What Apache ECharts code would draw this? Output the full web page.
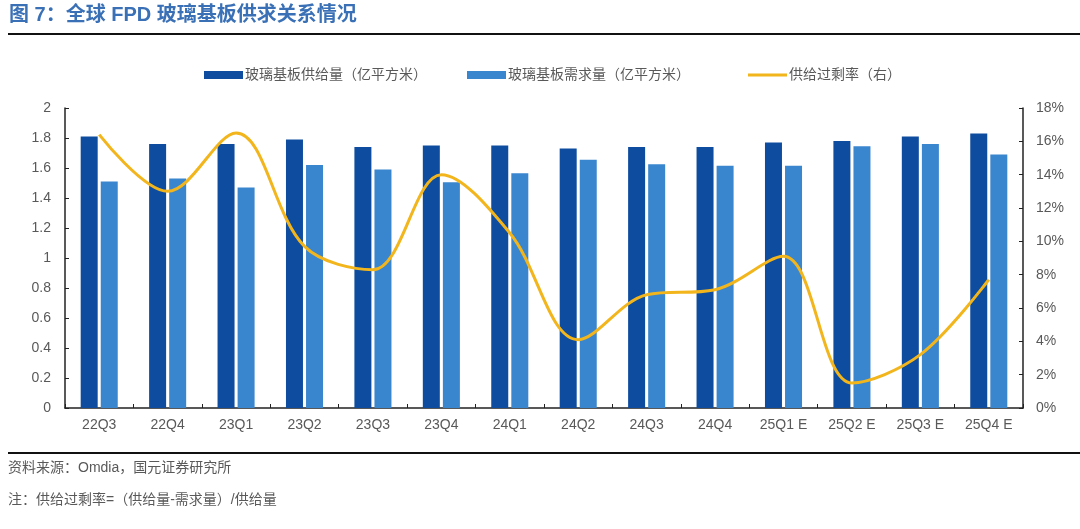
<!DOCTYPE html>
<html>
<head>
<meta charset="utf-8">
<script src="https://cdn.jsdelivr.net/npm/echarts@6/dist/echarts.min.js"></script>
<style>
html,body{margin:0;padding:0;background:#fff;}
#c{width:1080px;height:529px;}
</style>
</head>
<body>
<div id="c"></div>
<script>
var categories = ['22Q3','22Q4','23Q1','23Q2','23Q3','23Q4','24Q1','24Q2','24Q3','24Q4','25Q1 E','25Q2 E','25Q3 E','25Q4 E'];
var supply = [1.81,1.76,1.76,1.79,1.74,1.75,1.75,1.73,1.74,1.74,1.77,1.78,1.81,1.83];
var demand = [1.51,1.53,1.47,1.62,1.59,1.505,1.565,1.655,1.625,1.615,1.615,1.745,1.76,1.69];
var surplus = [16.4,13.0,16.5,9.7,8.3,14.0,10.5,4.1,6.8,7.1,9.1,1.5,3.2,7.7];
var leftTicks = [0,0.2,0.4,0.6,0.8,1,1.2,1.4,1.6,1.8,2];
var rightTicks = [0,2,4,6,8,10,12,14,16,18];
var seriesNames = ['玻璃基板供给量（亿平方米）','玻璃基板需求量（亿平方米）','供给过剩率（右）'];

var txt = '#595959';
var font = '"Liberation Sans", "Noto Sans CJK SC", sans-serif';
var chart = echarts.init(document.getElementById('c'));
function lg(i, left, icon) {
  return {left: left, top: 63, itemWidth: 39, itemHeight: 8, itemGap: 0,
    textStyle: {color: txt, fontSize: 14, fontFamily: font, padding:[0,0,0,-3]},
    data: [{name: seriesNames[i], icon: icon}]};
}
chart.setOption({
  backgroundColor: '#fff',
  animation: false,
  textStyle: {fontFamily: font},
  graphic: [
    {type:'text', left: 9, top: 5, style:{text:'图 7：全球 FPD 玻璃基板供求关系情况', fill:'#3A70B6', font:'bold 20px "Liberation Sans", "Noto Sans CJK SC", sans-serif'}},
    {type:'rect', shape:{x:8, y:33, width:1072, height:2}, style:{fill:'#111'}},
    {type:'rect', shape:{x:8, y:452, width:1072, height:2}, style:{fill:'#111'}},
    {type:'text', left: 8, top: 461, style:{text:'资料来源：Omdia，国元证券研究所', fill:txt, font:'14px "Liberation Sans", "Noto Sans CJK SC", sans-serif'}},
    {type:'text', left: 8, top: 493, style:{text:'注：供给过剩率=（供给量-需求量）/供给量', fill:txt, font:'14px "Liberation Sans", "Noto Sans CJK SC", sans-serif'}}
  ],
  legend: [
    lg(0, 199, 'rect'),
    lg(1, 462, 'rect'),
    lg(2, 743, 'path://M0 0 H40 V3 H0 Z')
  ],
  grid: {left: 65, right: 57, top: 108, bottom: 121},
  xAxis: {
    type: 'category', data: categories,
    axisLine: {lineStyle: {color: '#222', width: 1.5}},
    axisTick: {show: true, inside: true, length: 4, alignWithLabel: false, lineStyle:{color:'#222'}},
    axisLabel: {color: txt, fontSize: 14, margin: 10, fontFamily: font}
  },
  yAxis: [
    {type:'value', min:0, max:2, interval:0.2,
     axisLine:{show:true, lineStyle:{color:'#222', width:1.5}},
     axisTick:{show:true, inside:true, length:4, lineStyle:{color:'#222'}},
     splitLine:{show:false},
     axisLabel:{color:txt, fontSize:14, margin:14, fontFamily: font}},
    {type:'value', min:0, max:18, interval:2,
     axisLine:{show:true, lineStyle:{color:'#222', width:1.5}},
     axisTick:{show:true, inside:true, length:4, lineStyle:{color:'#222'}},
     splitLine:{show:false},
     axisLabel:{color:txt, fontSize:14, margin:13, formatter:'{value}%', fontFamily: font}}
  ],
  series: [
    {name:seriesNames[0], type:'bar', data: supply, barWidth: 17, barGap: '18%',
     itemStyle:{color:'#0E4C9F'}},
    {name:seriesNames[1], type:'bar', data: demand, barWidth: 17,
     itemStyle:{color:'#3A86CE'}},
    {name:seriesNames[2], type:'line', yAxisIndex:1, data: surplus, smooth: 0.35,
     symbol:'none', lineStyle:{color:'#F2B51C', width:3}, itemStyle:{color:'#F2B51C'}}
  ]
});
</script>
</body>
</html>
